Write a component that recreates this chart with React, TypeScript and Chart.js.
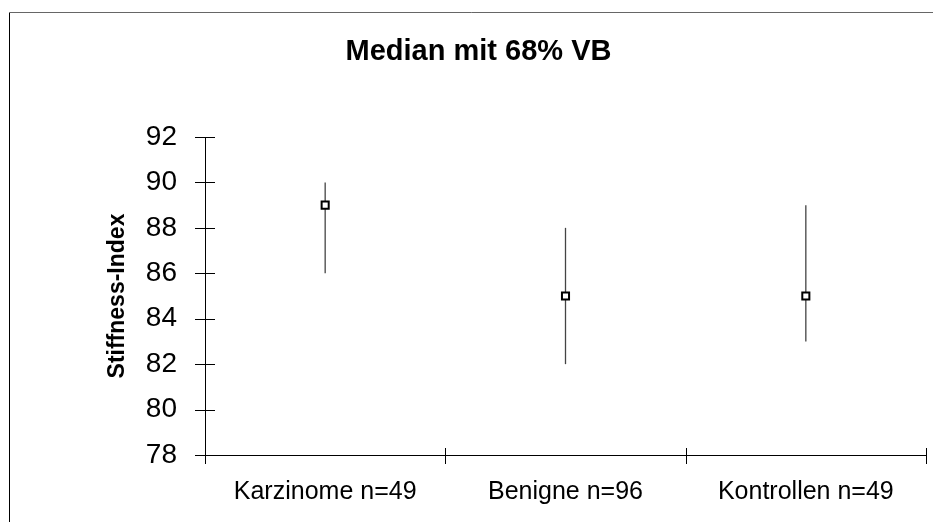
import React, { useEffect, useRef } from "react";
import { Chart, registerables } from "chart.js";

Chart.register(...registerables);

const categories = ["Karzinome n=49", "Benigne n=96", "Kontrollen n=49"];
const medians = [89, 85, 85];
const lowerBounds = [86, 82, 83];
const upperBounds = [90, 88, 89];
const yMin = 78;
const yMax = 92;
const yStep = 2;
const titleText = "Median mit 68% VB";
const yAxisTitle = "Stiffness-Index";

const FONT = "'Liberation Sans', Arial, Helvetica, sans-serif";

const framePlugin = {
  id: "frame",
  beforeDraw(chart: any) {
    const ctx = chart.ctx;
    ctx.save();
    ctx.fillStyle = "#ffffff";
    ctx.fillRect(0, 0, chart.width, chart.height);
    ctx.lineWidth = 1;
    ctx.strokeStyle = "#000000";
    ctx.beginPath();
    ctx.moveTo(9.5, chart.height + 5);
    ctx.lineTo(9.5, 12.5);
    ctx.stroke();
    ctx.strokeStyle = "#666666";
    ctx.beginPath();
    ctx.moveTo(9.5, 12.5);
    ctx.lineTo(chart.width + 5, 12.5);
    ctx.stroke();
    ctx.restore();
  },
};

const errorBarPlugin = {
  id: "errorBars",
  beforeDatasetsDraw(chart: any) {
    const ctx = chart.ctx;
    const xs = chart.scales.x;
    const ys = chart.scales.y;
    const area = chart.chartArea;
    ctx.save();
    // cross ticks on y axis
    ctx.strokeStyle = "#000000";
    ctx.lineWidth = 1;
    for (let v = yMin; v <= yMax; v += yStep) {
      const py = Math.round(ys.getPixelForValue(v)) + 0.5;
      ctx.beginPath();
      ctx.moveTo(area.left - 10, py);
      ctx.lineTo(area.left + 10, py);
      ctx.stroke();
    }
    // cross ticks on x axis at category boundaries
    for (let i = 0; i <= categories.length; i++) {
      const px = Math.round(xs.getPixelForValue(i - 0.5)) + 0.5;
      ctx.beginPath();
      ctx.moveTo(px, area.bottom - 7);
      ctx.lineTo(px, area.bottom + 9);
      ctx.stroke();
    }
    // error bars
    ctx.strokeStyle = "#444444";
    ctx.lineWidth = 1.3;
    for (let i = 0; i < categories.length; i++) {
      const px = xs.getPixelForValue(i);
      ctx.beginPath();
      ctx.moveTo(px, ys.getPixelForValue(lowerBounds[i]));
      ctx.lineTo(px, ys.getPixelForValue(upperBounds[i]));
      ctx.stroke();
    }
    ctx.restore();
  },
};

export default function App() {
  const canvasRef = useRef<HTMLCanvasElement | null>(null);

  useEffect(() => {
    if (!canvasRef.current) return;
    const chart = new Chart(canvasRef.current, {
      type: "line",
      data: {
        labels: categories,
        datasets: [
          {
            data: medians,
            showLine: false,
            pointStyle: "rect",
            pointRadius: 5,
            pointBorderWidth: 2,
            pointBackgroundColor: "#ffffff",
            pointBorderColor: "#000000",
          },
        ],
      },
      options: {
        responsive: false,
        animation: false,
        layout: { padding: { left: 29, right: 5, top: 0, bottom: 0 } },
        plugins: {
          legend: { display: false },
          tooltip: { enabled: false },
          title: {
            display: true,
            text: titleText,
            color: "#000000",
            font: { family: FONT, size: 29, weight: "bold", lineHeight: 1.2 },
            padding: { top: 34.6, bottom: 67.6 },
          },
        },
        scales: {
          x: {
            type: "category",
            offset: true,
            grid: { display: false, drawTicks: false, offset: true },
            border: { display: true, color: "#000000", width: 1 },
            ticks: {
              color: "#000000",
              padding: 22,
              maxRotation: 0,
              autoSkip: false,
              font: { family: FONT, size: 25, lineHeight: 1.2 },
            },
            afterFit(scale: any) {
              scale.height = 67;
            },
          },
          y: {
            min: yMin,
            max: yMax,
            grid: { display: false, drawTicks: false },
            border: { display: true, color: "#000000", width: 1 },
            ticks: {
              stepSize: yStep,
              color: "#000000",
              padding: 28,
              font: { family: FONT, size: 28, lineHeight: 1.2 },
            },
            title: {
              display: true,
              text: yAxisTitle,
              color: "#000000",
              font: { family: FONT, size: 23, weight: "bold", lineHeight: 1.2 },
              padding: { top: 74.7, bottom: 0 },
            },
            afterFit(scale: any) {
              scale.width = 176;
            },
          },
        },
      },
      plugins: [framePlugin, errorBarPlugin],
    } as any);
    return () => chart.destroy();
  }, []);

  return (
    <div style={{ position: "absolute", left: 0, top: 0, width: 933, height: 522 }}>
      <canvas ref={canvasRef} width={933} height={522} />
    </div>
  );
}
